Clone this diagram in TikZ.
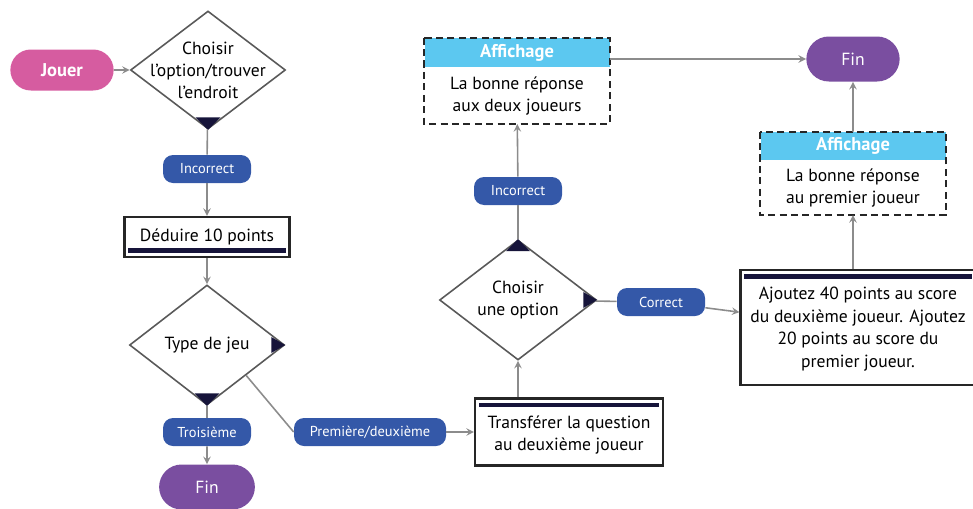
\documentclass[tikz,border=0pt]{standalone}
\usepackage{fontspec}
\setmainfont{PT Sans}
\usepackage{xcolor}
\usepackage{tikz}
\usetikzlibrary{arrows,positioning,shapes.geometric,shapes.misc}

\definecolor{jouercol}{RGB}{214,92,160}
\definecolor{fincol}{RGB}{122,78,160}
\definecolor{labelcol}{RGB}{52,88,168}
\definecolor{headcol}{RGB}{92,200,240}
\definecolor{linecol}{RGB}{140,140,140}
\definecolor{barcol}{RGB}{22,20,58}

\begin{document}
\begin{tikzpicture}[
        font=\fontsize{10}{12.5}\selectfont,
        start/.style={rounded rectangle, fill=jouercol, text=white, font=\fontsize{10.5}{12}\selectfont\bfseries, minimum width=2.3cm, minimum height=0.82cm},
        finish/.style={rounded rectangle, fill=fincol, text=white, minimum width=2.15cm, minimum height=0.9cm},
        decision/.style={diamond, draw=black!65, line width=0.9pt, aspect=1.3, inner sep=-0.3cm, align=center, minimum width=3.1cm, minimum height=2.36cm},
        process/.style={rectangle, draw=black!85, line width=1.2pt, align=center},
        barbottom/.style={path picture={\fill[barcol] ([xshift=2pt,yshift=2.5pt]path picture bounding box.south west) rectangle ([xshift=-2pt,yshift=5pt]path picture bounding box.south east);}},
        bartop/.style={path picture={\fill[barcol] ([xshift=2pt,yshift=-2.5pt]path picture bounding box.north west) rectangle ([xshift=-2pt,yshift=-5pt]path picture bounding box.north east);}},
        answer/.style={rectangle, rounded corners=0.2cm, fill=labelcol, text=white, font=\fontsize{8.2}{9}\selectfont, minimum width=1.76cm, minimum height=0.56cm},
        header/.style={rectangle, fill=headcol, text=white, font=\fontsize{10.5}{12}\selectfont\bfseries, minimum width=3.7cm, minimum height=0.58cm, inner sep=0pt},
        display/.style={rectangle, align=center, minimum width=3.7cm, inner sep=0pt},
        border/.style={draw=black!85, line width=1pt, dash pattern=on 4pt off 2.5pt},
        line/.style={draw=linecol, line width=0.9pt},
        arrow/.style={->, >=stealth, draw=linecol, line width=0.9pt}
    ]
    \useasboundingbox (0,0) rectangle (19.46,-10.16);

    % Left column
    \node[start] (jouer) at (1.24,-1.4) {Jouer};
    \node[decision] (choix) at (4.16,-1.4) {Choisir\\l'option/trouver\\l'endroit};
    \node[answer] (incorrect_a) at (4.14,-3.38) {Incorrect};
    \node[process, barbottom, minimum width=3.3cm, minimum height=0.8cm] (deduire) at (4.14,-4.74) {Déduire 10 points};
    \node[decision, minimum height=2.4cm] (type_jeu) at (4.14,-6.9) {Type de jeu};
    \node[answer] (troisieme) at (4.14,-8.64) {Troisième};
    \node[finish] (fin_a) at (4.14,-9.74) {Fin};
    \node[answer, minimum width=3.04cm] (premiere) at (7.4,-8.64) {Première/deuxième};

    % Middle column
    \node[process, bartop, minimum width=3.76cm, minimum height=1.34cm] (transferer) at (11.38,-8.64) {\\[-2pt]Transférer la question\\au deuxième joueur};
    \node[decision, minimum width=3.14cm, minimum height=2.4cm] (choix_option) at (10.36,-6.0) {Choisir\\une option};
    \node[answer] (incorrect_b) at (10.36,-3.82) {Incorrect};
    \node[header] (affichage_a) at (10.34,-1.05) {Affichage};
    \node[display, below=0pt of affichage_a, minimum height=1.12cm] (reponse_a) {La bonne réponse\\aux deux joueurs};

    % Right column
    \node[answer] (correct) at (13.22,-6.04) {Correct};
    \node[process, bartop, minimum width=4.7cm, minimum height=2.3cm, font=\fontsize{10}{13}\selectfont] (ajouter) at (17.16,-6.55) {\\[-4pt]Ajoutez 40 points au score\\du deuxième joueur. Ajoutez\\20 points au score du\\premier joueur.};
    \node[header, minimum height=0.56cm] (affichage_b) at (17.06,-2.92) {Affichage};
    \node[display, below=0pt of affichage_b, minimum height=1.08cm] (reponse_b) {La bonne réponse\\au premier joueur};
    \node[finish, minimum width=2.1cm] (fin_b) at (17.06,-1.18) {Fin};

    % Dashed frames
    \draw[border] (affichage_a.north west) rectangle (reponse_a.south east);
    \draw[border] (affichage_b.north west) rectangle (reponse_b.south east);

    % Corner marks
    \fill[barcol] (choix.south) -- ++(-0.25,0.25) -- ++(0.5,0) -- cycle;
    \fill[barcol] (type_jeu.south) -- ++(-0.25,0.25) -- ++(0.5,0) -- cycle;
    \fill[barcol] (type_jeu.east) -- ++(-0.28,0.16) -- ++(0,-0.32) -- cycle;
    \fill[barcol] (choix_option.north) -- ++(-0.24,-0.24) -- ++(0.48,0) -- cycle;
    \fill[barcol] (choix_option.east) -- ++(-0.28,0.16) -- ++(0,-0.32) -- cycle;

    % Connections - left
    \draw[arrow] (jouer) -- (choix);
    \draw[line] (choix) -- (incorrect_a);
    \draw[arrow] (incorrect_a) -- (deduire);
    \draw[arrow] (deduire) -- (type_jeu);
    \draw[line] (type_jeu) -- (troisieme);
    \draw[arrow] (troisieme) -- (fin_a);
    \draw[line] (type_jeu.south east) -- (premiere.west);
    \draw[arrow] (premiere) -- (transferer);

    % Connections - middle
    \draw[arrow] (transferer.north -| choix_option.south) -- (choix_option.south);
    \draw[line] (choix_option) -- (incorrect_b);
    \draw[arrow] (incorrect_b) -- (reponse_a);
    \draw[arrow] (affichage_a.east |- fin_b.west) -- (fin_b.west);

    % Connections - right
    \draw[line] (choix_option) -- (correct);
    \draw[arrow] (correct) -- (ajouter);
    \draw[arrow] (ajouter.north -| reponse_b.south) -- (reponse_b.south);
    \draw[arrow] (affichage_b) -- (fin_b);

\end{tikzpicture}
\end{document}
